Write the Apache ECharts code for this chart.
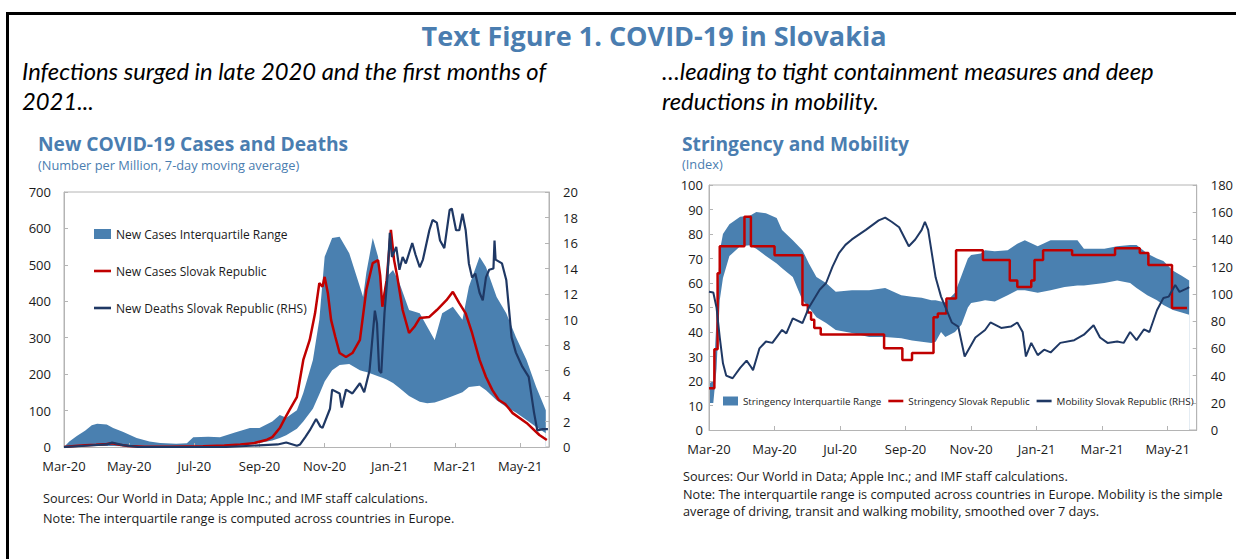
<!DOCTYPE html>
<html>
<head>
<meta charset="utf-8">
<script src="https://cdn.jsdelivr.net/npm/echarts@6/dist/echarts.min.js"></script>
<style>
  html, body { margin: 0; padding: 0; background: #fff; overflow: hidden; }
  #frame { position: absolute; left: 6px; top: 12px; width: 1300px; height: 600px;
           border-top: 3px solid #000; border-left: 3px solid #000; }
  #chart { position: absolute; left: 0; top: 0; width: 1236px; height: 559px; }
</style>
</head>
<body>
<div id="frame"></div>
<div id="chart"></div>
<script>
// x values are days counted from 1 Mar 2020
const monthLabels = ['Mar-20', 'May-20', 'Jul-20', 'Sep-20', 'Nov-20', 'Jan-21', 'Mar-21', 'May-21'];

// left panel: new cases per million (lhs) and deaths per million (rhs)
const casesBandDays = [0, 5, 12, 20, 26, 31, 40, 46, 55, 68, 80, 90, 105, 115, 121, 135, 146, 160, 174, 183,
  195, 202, 208, 218, 224, 233, 239, 244, 251, 258, 267, 277, 280, 283, 289, 294, 298, 302, 308, 314,
  323, 333, 340, 347, 354, 364, 373, 379, 389, 395, 405, 414, 423, 433, 442, 451];
const casesBandLow = [0, 0, 1, 2, 3, 3, 3, 3, 2, 1, 1, 1, 1, 1, 2, 3, 4, 5, 8, 11,
  18, 25, 32, 50, 70, 105, 145, 180, 211, 225, 228, 211, 208, 206, 200, 194, 190, 185, 176, 162,
  140, 124, 120, 122, 129, 140, 150, 165, 168, 156, 128, 110, 95, 74, 55, 38];
const casesBandHigh = [0, 15, 30, 45, 60, 64, 62, 52, 42, 25, 15, 11, 9, 10, 27, 28, 27, 40, 52, 52,
  70, 88, 80, 101, 148, 239, 349, 522, 574, 577, 532, 440, 412, 478, 574, 522, 403, 467, 486, 450,
  376, 367, 330, 294, 367, 385, 349, 440, 522, 494, 412, 367, 302, 239, 165, 101];
const casesSK = [[0, 0], [10, 3], [20, 5], [30, 6], [40, 8], [45, 10], [52, 6], [60, 3], [75, 1], [100, 1],
  [130, 2], [150, 4], [165, 7], [177, 10], [190, 20], [195, 27], [202, 52], [207, 80], [211, 101], [218, 137],
  [224, 239], [230, 294], [235, 367], [239, 450], [242, 440], [244, 467], [247, 422], [250, 349], [254, 302],
  [258, 258], [264, 247], [270, 258], [277, 294], [283, 431], [289, 505], [294, 513], [296, 470], [298, 385],
  [302, 458], [306, 596], [309, 513], [312, 467], [317, 376], [323, 313], [328, 330], [333, 354], [342, 357],
  [349, 376], [358, 403], [364, 426], [370, 395], [376, 367], [382, 313], [389, 239], [395, 192], [401, 156],
  [407, 129], [413, 118], [420, 93], [433, 66], [445, 33], [452, 19]];
const deathsSK = [[0, 0], [20, 0.1], [40, 0.2], [45, 0.35], [55, 0.15], [70, 0], [150, 0], [200, 0.2],
  [208, 0.35], [218, 0.1], [221, 0.2], [226, 0.8], [230, 1.3], [236, 2.2], [240, 1.6], [242, 1.5], [249, 3.0],
  [251, 4.5], [258, 4.2], [260, 3.1], [264, 4.5], [270, 4.2], [277, 5.0], [281, 4.3], [286, 6.0], [291, 10.7],
  [293, 9.7], [295, 6.0], [297, 5.8], [300, 10.5], [303, 13.6], [305, 16.8], [307, 14.9], [311, 15.7],
  [314, 13.9], [317, 14.9], [320, 14.4], [326, 16.0], [329, 15.1], [333, 14.1], [336, 14.7], [342, 17.0],
  [345, 17.8], [349, 17.6], [352, 16.2], [356, 15.6], [361, 18.6], [363, 18.7], [367, 17.0], [370, 17.0],
  [373, 18.3], [376, 17.0], [379, 14.4], [382, 13.3], [385, 13.6], [389, 12.1], [392, 11.5], [395, 13.3],
  [398, 13.9], [402, 14.0], [403, 16.2], [404, 14.7], [410, 14.4], [414, 13.1], [419, 8.6], [423, 7.4],
  [429, 6.3], [435, 5.5], [440, 2.7], [443, 1.3], [448, 1.4], [453, 1.4]];

// right panel: stringency index (lhs) and mobility (rhs)
const strBandDays = [0, 4, 7, 10, 13, 19, 29, 38, 44, 53, 63, 68, 78, 87, 93, 100, 109, 118, 133, 149,
  164, 179, 189, 198, 207, 211, 216, 220, 229, 235, 241, 244, 253, 257, 266, 278, 287, 294, 306, 318,
  331, 343, 349, 368, 380, 392, 398, 408, 417, 423, 432, 440, 447];
const strBandLow = [11, 11, 25, 53, 62, 71, 75, 75.4, 74, 71, 68, 66, 62.5, 53, 50, 46, 43.7, 40.8, 39.6, 38,
  38, 37.5, 36.5, 36, 35.5, 36, 40, 38, 40, 43, 50, 51.8, 52.6, 53, 52.5, 55, 57, 57, 56, 57,
  58.4, 59, 59, 60, 61, 60, 58, 55, 53, 51, 49, 48, 47];
const strBandHigh = [19, 20, 45, 73, 80, 84, 87, 87.5, 89, 88.5, 86.5, 81.6, 77.5, 73.4, 68, 62.5, 60, 56.4, 57, 57,
  58, 55, 54.4, 54, 53, 53, 52.5, 52, 56, 63, 70, 71.4, 72, 73.4, 73, 73.4, 76, 77.5, 75, 77.5,
  77.5, 77.5, 74, 74, 75, 75.5, 75.5, 72, 70, 69, 65, 63, 61];
// each point starts a new level of the index
const stringencySK = [[0, 17], [5, 33], [8, 64], [10, 75], [33, 87], [39, 75], [61, 71.3], [87, 51], [92, 48],
  [95, 45], [98, 41.6], [104, 39], [163, 33.4], [180, 28.6], [189, 31.4], [209, 46], [213, 47.6], [221, 53.7],
  [230, 73.4], [255, 69.4], [280, 61], [287, 58.4], [300, 61], [303, 69.4], [311, 73.4], [338, 71.4],
  [378, 74.2], [401, 72.2], [409, 67.3], [431, 49.8], [445, 49.8]];
const mobilitySK = [[0, 101.5], [4, 101], [7, 90], [10, 68], [13, 49], [16, 40], [22, 38], [29, 45.6], [35, 51],
  [39, 46.5], [41, 44], [47, 60], [53, 65], [59, 64], [68, 73.5], [72, 71], [78, 82], [87, 78.6], [93, 90],
  [103, 103], [109, 108], [115, 120], [121, 130], [127, 136], [133, 140], [146, 147], [158, 154], [164, 156],
  [170, 153], [177, 149], [186, 135], [192, 140], [198, 147], [201, 153], [204, 147], [211, 112], [216, 98],
  [226, 79], [232, 76], [238, 54], [248, 68], [257, 73.5], [262, 79], [272, 75], [281, 76], [287, 79],
  [292, 72], [295, 54], [300, 64], [306, 55], [312, 59], [318, 57], [327, 64], [340, 66], [349, 70],
  [358, 77], [364, 68], [371, 64], [380, 65], [386, 64], [392, 72], [398, 66], [405, 74], [410, 72],
  [417, 88], [423, 97], [428, 98], [434, 106.5], [438, 101.5], [445, 104], [447, 105]];

const blue = '#4a80b0';
const red = '#c00000';
const navy = '#1f3864';
const titleBlue = '#4a7db0';
const grey = '#b4b4b4';
const ink = '#1a1a1a';
const sans = '"Open Sans", "Noto Sans", sans-serif';

const pairs = (xs, ys) => xs.map((x, i) => [x, ys[i]]);
// thin bar icon for line entries in the legends
const lineIcon = (w, h) => 'path://M0,0M0,' + h + 'M0,' + (h / 2 - 1.3) + 'L' + w + ',' + (h / 2 - 1.3) +
  'L' + w + ',' + (h / 2 + 1.3) + 'L0,' + (h / 2 + 1.3) + 'Z';

function dayAxis(gridIndex, margin) {
  return {
    type: 'value', gridIndex: gridIndex, min: 0, max: 454, interval: 61, z: 3,
    axisLine: { lineStyle: { color: grey } },
    axisTick: { inside: true, length: 4, lineStyle: { color: grey } },
    splitLine: { show: false },
    axisLabel: {
      color: ink, fontFamily: sans, fontSize: 13, margin: margin,
      formatter: v => (v % 61 === 0 ? monthLabels[v / 61] : '')
    }
  };
}
function valAxis(gridIndex, pos, max, step, margin) {
  return {
    type: 'value', gridIndex: gridIndex, position: pos, min: 0, max: max, interval: step, z: 3,
    axisLine: { show: true, lineStyle: { color: grey } },
    axisTick: { show: true, inside: true, length: 4, lineStyle: { color: grey } },
    splitLine: { show: false },
    axisLabel: { color: ink, fontFamily: sans, fontSize: 13, margin: margin }
  };
}
function text(x, y, str, font, fill, align) {
  return {
    type: 'text', x: x, y: y, silent: true,
    style: { text: str, font: font, fill: fill, textAlign: align || 'left', textVerticalAlign: 'middle' }
  };
}
// the band is the upper quartile filled down to zero, with the area under the lower quartile painted white
function band(name, xi, yi, days, low, high) {
  return [
    {
      name: name, type: 'line', xAxisIndex: xi, yAxisIndex: yi, symbol: 'none',
      itemStyle: { color: blue }, lineStyle: { width: 0 },
      areaStyle: { color: blue, opacity: 1 }, data: pairs(days, high)
    },
    {
      type: 'line', xAxisIndex: xi, yAxisIndex: yi, symbol: 'none', silent: true,
      lineStyle: { width: 0 }, areaStyle: { color: '#ffffff', opacity: 1 }, data: pairs(days, low)
    }
  ];
}

const chart = echarts.init(document.getElementById('chart'), null, { renderer: 'svg' });
chart.setOption({
  animation: false,
  graphic: [
    text(654, 35, 'Text Figure 1. COVID-19 in Slovakia', 'bold 27px ' + sans, titleBlue, 'center'),
    text(22, 71, 'Infections surged in late 2020 and the first months of', 'italic 23.8px Lato', '#000'),
    text(22, 101, '2021...', 'italic 23.8px Lato', '#000'),
    text(662, 71, '…leading to tight containment measures and deep', 'italic 23.8px Lato', '#000'),
    text(662, 101, 'reductions in mobility.', 'italic 23.8px Lato', '#000'),
    text(38, 143, 'New COVID-19 Cases and Deaths', 'bold 19.2px ' + sans, titleBlue),
    text(38, 165, '(Number per Million, 7-day moving average)', '12.8px ' + sans, titleBlue),
    text(682, 143, 'Stringency and Mobility', 'bold 19.2px ' + sans, titleBlue),
    text(682, 164, '(Index)', '12.8px ' + sans, titleBlue),
    text(43, 498, 'Sources: Our World in Data; Apple Inc.; and IMF staff calculations.', '12.7px ' + sans, ink),
    text(43, 518, 'Note: The interquartile range is computed across countries in Europe.', '12.7px ' + sans, ink),
    text(683, 476, 'Sources: Our World in Data; Apple Inc.; and IMF staff calculations.', '12.7px ' + sans, ink),
    text(683, 494, 'Note: The interquartile range is computed across countries in Europe. Mobility is the simple', '12.7px ' + sans, ink),
    text(683, 511, 'average of driving, transit and walking mobility, smoothed over 7 days.', '12.7px ' + sans, ink)
  ],
  grid: [
    { left: 64, top: 192, width: 485, height: 255, show: true, borderColor: grey, borderWidth: 1 },
    { left: 709, top: 185, width: 491, height: 245, show: true, borderColor: grey, borderWidth: 1 }
  ],
  xAxis: [dayAxis(0, 12), dayAxis(1, 12)],
  yAxis: [
    valAxis(0, 'left', 700, 100, 13),
    valAxis(0, 'right', 20, 2, 14),
    valAxis(1, 'left', 100, 10, 6),
    valAxis(1, 'right', 180, 20, 14)
  ],
  legend: [
    {
      left: 94, top: 228, padding: 0, orient: 'vertical', itemGap: 25, itemWidth: 17, itemHeight: 10,
      textStyle: { color: ink, fontFamily: sans, fontSize: 12 },
      data: [
        { name: 'New Cases Interquartile Range', icon: 'rect' },
        { name: 'New Cases Slovak Republic', icon: lineIcon(17, 10) },
        { name: 'New Deaths Slovak Republic (RHS)', icon: lineIcon(17, 10) }
      ]
    },
    {
      left: 723, top: 396, padding: 0, orient: 'horizontal', itemGap: 7, itemWidth: 15, itemHeight: 9,
      textStyle: { color: ink, fontFamily: sans, fontSize: 9.8 },
      data: [
        { name: 'Stringency Interquartile Range', icon: 'rect' },
        { name: 'Stringency Slovak Republic', icon: lineIcon(15, 9) },
        { name: 'Mobility Slovak Republic (RHS)', icon: lineIcon(15, 9) }
      ]
    }
  ],
  series: [
    ...band('New Cases Interquartile Range', 0, 0, casesBandDays, casesBandLow, casesBandHigh),
    {
      name: 'New Cases Slovak Republic', type: 'line', xAxisIndex: 0, yAxisIndex: 0, symbol: 'none',
      itemStyle: { color: red }, lineStyle: { color: red, width: 2.5 }, data: casesSK
    },
    {
      name: 'New Deaths Slovak Republic (RHS)', type: 'line', xAxisIndex: 0, yAxisIndex: 1, symbol: 'none',
      itemStyle: { color: navy }, lineStyle: { color: navy, width: 2.2 }, data: deathsSK
    },
    ...band('Stringency Interquartile Range', 1, 2, strBandDays, strBandLow, strBandHigh),
    {
      name: 'Stringency Slovak Republic', type: 'line', xAxisIndex: 1, yAxisIndex: 2, symbol: 'none',
      step: 'end', itemStyle: { color: red }, lineStyle: { color: red, width: 2.5 }, data: stringencySK
    },
    {
      name: 'Mobility Slovak Republic (RHS)', type: 'line', xAxisIndex: 1, yAxisIndex: 3, symbol: 'none',
      itemStyle: { color: navy }, lineStyle: { color: navy, width: 2 }, data: mobilitySK
    }
  ]
});
</script>
</body>
</html>
